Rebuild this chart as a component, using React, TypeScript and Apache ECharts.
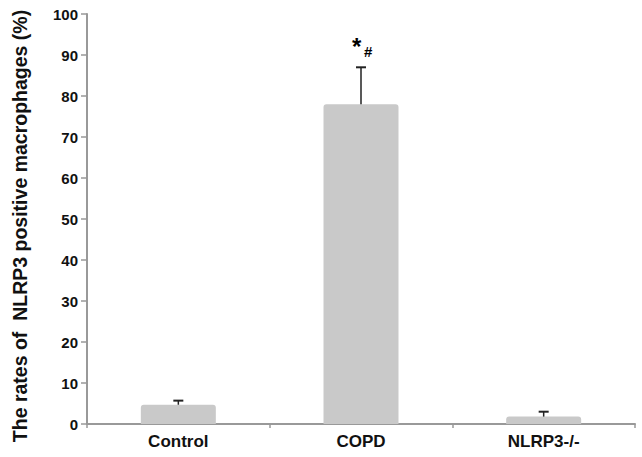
import React, { useEffect, useRef } from "react";
import * as echarts from "echarts";

const categories = ["Control", "COPD", "NLRP3-/-"];
const means = [4.7, 78.0, 1.8];
const errors = [1.0, 9.0, 1.2];
const yTicks = [0, 10, 20, 30, 40, 50, 60, 70, 80, 90, 100];
const yLabel = "The rates of  NLRP3 positive macrophages (%)";
const annotation = { category: "COPD", value: 93, text: "*", sub: "#" };

export default function App() {
  const ref = useRef<HTMLDivElement>(null);
  useEffect(() => {
    if (!ref.current) return;
    const chart = echarts.init(ref.current, undefined, { renderer: "svg" });
    const font = "Liberation Sans, Arial, sans-serif";
    chart.setOption({
      animation: false,
      backgroundColor: "#ffffff",
      grid: { left: 87, right: 7, top: 14, bottom: 33, containLabel: false, outerBoundsMode: "none" },
      graphic: [
        {
          type: "text",
          x: 20,
          y: 226,
          rotation: Math.PI / 2,
          style: {
            text: yLabel,
            font: `bold 19.5px ${font}`,
            fill: "#111",
            align: "center",
            verticalAlign: "middle",
          },
        },
      ],
      xAxis: {
        type: "category",
        data: categories,
        axisLine: { lineStyle: { color: "#999999", width: 2 } },
        axisTick: { show: true, length: 4, lineStyle: { color: "#999999", width: 1.5 } },
        axisLabel: { color: "#111", fontWeight: "bold", fontSize: 17, fontFamily: font, margin: 9 },
      },
      yAxis: {
        type: "value",
        min: yTicks[0],
        max: yTicks[yTicks.length - 1],
        interval: 10,
        axisLine: { show: true, lineStyle: { color: "#999999", width: 2 } },
        axisTick: { show: true, length: 6, lineStyle: { color: "#999999", width: 1.5 } },
        splitLine: { show: false },
        axisLabel: { color: "#111", fontWeight: "bold", fontSize: 15, fontFamily: font, margin: 9 },
      },
      series: [
        {
          type: "bar",
          data: means,
          barWidth: 75,
          itemStyle: { color: "#c9c9c9", borderRadius: [3, 3, 0, 0] },
          z: 2,
        },
        {
          type: "custom",
          z: 3,
          data: categories.map((c, i) => [i, means[i], means[i] + errors[i]]),
          renderItem: (params: any, api: any) => {
            const x = api.coord([api.value(0), 0])[0];
            const yb = api.coord([api.value(0), api.value(1)])[1];
            const yt = api.coord([api.value(0), api.value(2)])[1];
            return {
              type: "group",
              children: [
                { type: "line", shape: { x1: x, y1: yb, x2: x, y2: yt }, style: { stroke: "#222", lineWidth: 1.5 } },
                { type: "line", shape: { x1: x - 5, y1: yt, x2: x + 5, y2: yt }, style: { stroke: "#222", lineWidth: 2 } },
              ],
            };
          },
        },
        {
          type: "custom",
          z: 4,
          data: [[categories.indexOf(annotation.category), annotation.value]],
          renderItem: (params: any, api: any) => {
            const p = api.coord([api.value(0), api.value(1)]);
            return {
              type: "group",
              children: [
                { type: "text", x: p[0] - 9, y: p[1] - 8, style: { text: annotation.text, font: `bold 24px ${font}`, fill: "#000" } },
                { type: "text", x: p[0] + 3, y: p[1] + 1, style: { text: annotation.sub, font: `bold 15px ${font}`, fill: "#000" } },
              ],
            };
          },
        },
      ],
    });
    return () => chart.dispose();
  }, []);
  return <div ref={ref} style={{ width: 642, height: 457, position: "absolute", left: 0, top: 0 }} />;
}
